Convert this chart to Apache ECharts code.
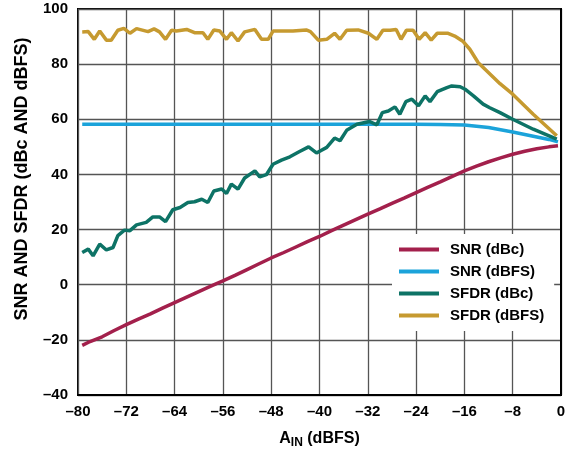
<!DOCTYPE html>
<html>
<head>
<meta charset="utf-8">
<script src="https://cdn.jsdelivr.net/npm/echarts@6/dist/echarts.min.js"></script>
<style>html,body{margin:0;padding:0;background:#fff}#c{width:574px;height:456px}</style>
</head>
<body>
<div id="c"></div>
<script>
var seriesNames = ['SNR (dBc)', 'SNR (dBFS)', 'SFDR (dBc)', 'SFDR (dBFS)'];
var xTicks = [-80, -72, -64, -56, -48, -40, -32, -24, -16, -8, 0];
var yTicks = [-40, -20, 0, 20, 40, 60, 80, 100];

var snrDbcX = [-79.3,-78,-76,-74,-72,-70,-68,-66,-64,-62,-60,-58,-56,-54,-52,-50,-48,-46,-44,-42,-40,-38,-36,-34,-32,-30,-28,-26,-24,-22,-20,-18,-16,-14,-12,-10,-8,-6,-4,-2,-0.5];
var snrDbcY = [-22.0,-20.6,-18.9,-16.6,-14.5,-12.5,-10.6,-8.5,-6.5,-4.5,-2.5,-0.5,1.4,3.4,5.5,7.6,9.7,11.6,13.6,15.6,17.5,19.6,21.6,23.6,25.6,27.5,29.5,31.4,33.4,35.4,37.3,39.3,41.3,43.0,44.6,46.0,47.3,48.4,49.3,50.0,50.4];

var snrDbfsX = [-79.3,-72,-64,-56,-48,-40,-32,-24,-20,-16,-12,-8,-4,-2,-0.5];
var snrDbfsY = [58.2,58.2,58.2,58.2,58.2,58.2,58.2,58.2,58.1,57.9,57.0,55.4,53.6,52.7,51.8];

var sfdrDbcX = [-79.3,-78.3,-77.5,-76.4,-75.3,-74.2,-73.4,-72.3,-71.4,-70.3,-68.7,-67.6,-66.5,-65.5,-64.3,-63.1,-61.8,-60.7,-59.5,-58.5,-57.5,-56.2,-55.4,-54.6,-53.5,-52.4,-50.7,-49.9,-48.8,-47.7,-46.3,-44.9,-43.3,-41.8,-40.5,-38.8,-37.5,-36.6,-35.5,-33.8,-31.7,-30.5,-29.6,-28.6,-27.5,-26.7,-25.7,-24.7,-23.6,-22.5,-21.7,-20.5,-18.9,-18.1,-16.7,-15.9,-14.5,-12.9,-11.8,-10.1,-8,-4.6,-0.7];
var sfdrDbcY = [11.7,12.9,10.5,14.7,12.6,13.5,17.8,19.8,19.6,21.7,22.6,24.6,24.6,22.9,27.2,28,29.8,30.1,31,29.8,34,34.7,33.1,36.5,34.7,38.7,41.3,39.1,39.9,43.7,45.2,46.4,48.3,50,47.8,49.8,53.2,52.2,56,58.2,59.2,58,62.4,63,64.5,61.8,66.4,67.3,64.9,68.5,66.4,70,71.5,72.1,71.8,70.9,68.5,65.5,64.2,62.4,60,56.4,52.8];

var sfdrDbfsX = [-79.3,-78.3,-77.3,-76.4,-75.3,-74.5,-73.4,-72.4,-71.4,-70.3,-68.4,-67.4,-66.5,-65.5,-64.5,-63.7,-62,-60.7,-59.3,-58.5,-57.5,-56.5,-55.4,-54.6,-53.5,-52.4,-50.7,-49.6,-48.5,-47.7,-44.4,-42.2,-41.5,-40.2,-38.8,-37.5,-36.6,-35.5,-33.6,-31.9,-30.5,-29.5,-28.3,-27.3,-26.5,-25.6,-24.5,-23.5,-22.5,-21.5,-20.5,-18.7,-17.6,-16.2,-15.1,-13.7,-10.1,-8,-4.6,-0.7];
var sfdrDbfsY = [91.7,91.8,89,92,88.7,88.7,92.3,93,91.2,92.9,91.8,92.8,91.7,89,92.3,92,92.6,91.4,91.4,89,92.4,92,89,91.4,88.4,91.7,92.6,89,89,92,92,92.4,91.8,88.7,89,91.2,89,92.3,92.4,91.2,89,92.3,92.3,92.6,89,92.3,92.3,89,91.4,88.7,91.2,91.2,90.2,88.2,85.4,80.5,72.9,69.1,61.8,54];

var colors = ['#A3204C', '#1BA3DA', '#0D7366', '#C69A30'];

function pairs(xs, ys) { return xs.map(function (x, i) { return [x, ys[i]]; }); }
function dash(v) { return String(v).replace('-', '\u2013'); }

var FONT = 'Liberation Sans, Arial, sans-serif';
var datasets = [pairs(snrDbcX, snrDbcY), pairs(snrDbfsX, snrDbfsY), pairs(sfdrDbcX, sfdrDbcY), pairs(sfdrDbfsX, sfdrDbfsY)];

var chart = echarts.init(document.getElementById('c'), null, {renderer: 'canvas'});
chart.setOption({
  animation: false,
  color: colors,
  grid: {left: 78, right: 13, top: 9, bottom: 61, show: true, borderColor: '#000', borderWidth: 2, backgroundColor: 'transparent'},
  xAxis: {
    type: 'value', min: xTicks[0], max: xTicks[xTicks.length - 1], interval: 8,
    axisLine: {show: true, onZero: false, lineStyle: {color: '#000', width: 2}},
    axisTick: {show: false},
    splitLine: {show: true, lineStyle: {color: '#555', width: 1.3}},
    axisLabel: {color: '#000', fontSize: 15, fontWeight: 'bold', fontFamily: FONT, margin: 9, formatter: dash},
    name: '{a|A}{b|IN}{a| (dBFS)}',
    nameLocation: 'middle', nameGap: 34,
    nameTextStyle: {
      rich: {
        a: {fontSize: 16, fontWeight: 'bold', fontFamily: FONT, color: '#000'},
        b: {fontSize: 12, fontWeight: 'bold', fontFamily: FONT, color: '#000', padding: [8, 0, 0, 0]}
      }
    }
  },
  yAxis: {
    type: 'value', min: yTicks[0], max: yTicks[yTicks.length - 1], interval: 20,
    axisLine: {show: true, lineStyle: {color: '#000', width: 2}},
    axisTick: {show: false},
    splitLine: {show: true, lineStyle: {color: '#555', width: 1.3}},
    axisLabel: {color: '#000', fontSize: 15, fontWeight: 'bold', fontFamily: FONT, margin: 10, formatter: dash}
  },
  legend: {
    orient: 'vertical', left: 392, top: 234,
    padding: [7, 10, 7, 7],
    backgroundColor: '#fff',
    icon: 'rect',
    itemWidth: 40, itemHeight: 4, itemGap: 5,
    textStyle: {color: '#000', fontSize: 15, fontWeight: 'bold', fontFamily: FONT, padding: [0, 0, 0, 6], lineHeight: 17},
    data: seriesNames
  },
  graphic: [{
    type: 'text', x: 22, y: 179, rotation: Math.PI / 2,
    style: {text: 'SNR AND SFDR (dBc AND dBFS)', fill: '#000', font: 'bold 18px ' + FONT, textAlign: 'center', textVerticalAlign: 'middle'}
  }],
  series: seriesNames.map(function (n, i) {
    return {
      name: n, type: 'line', data: datasets[i], symbol: 'none', smooth: false,
      lineStyle: {width: 3.5, color: colors[i]}, itemStyle: {color: colors[i]}
    };
  })
});
</script>
</body>
</html>
